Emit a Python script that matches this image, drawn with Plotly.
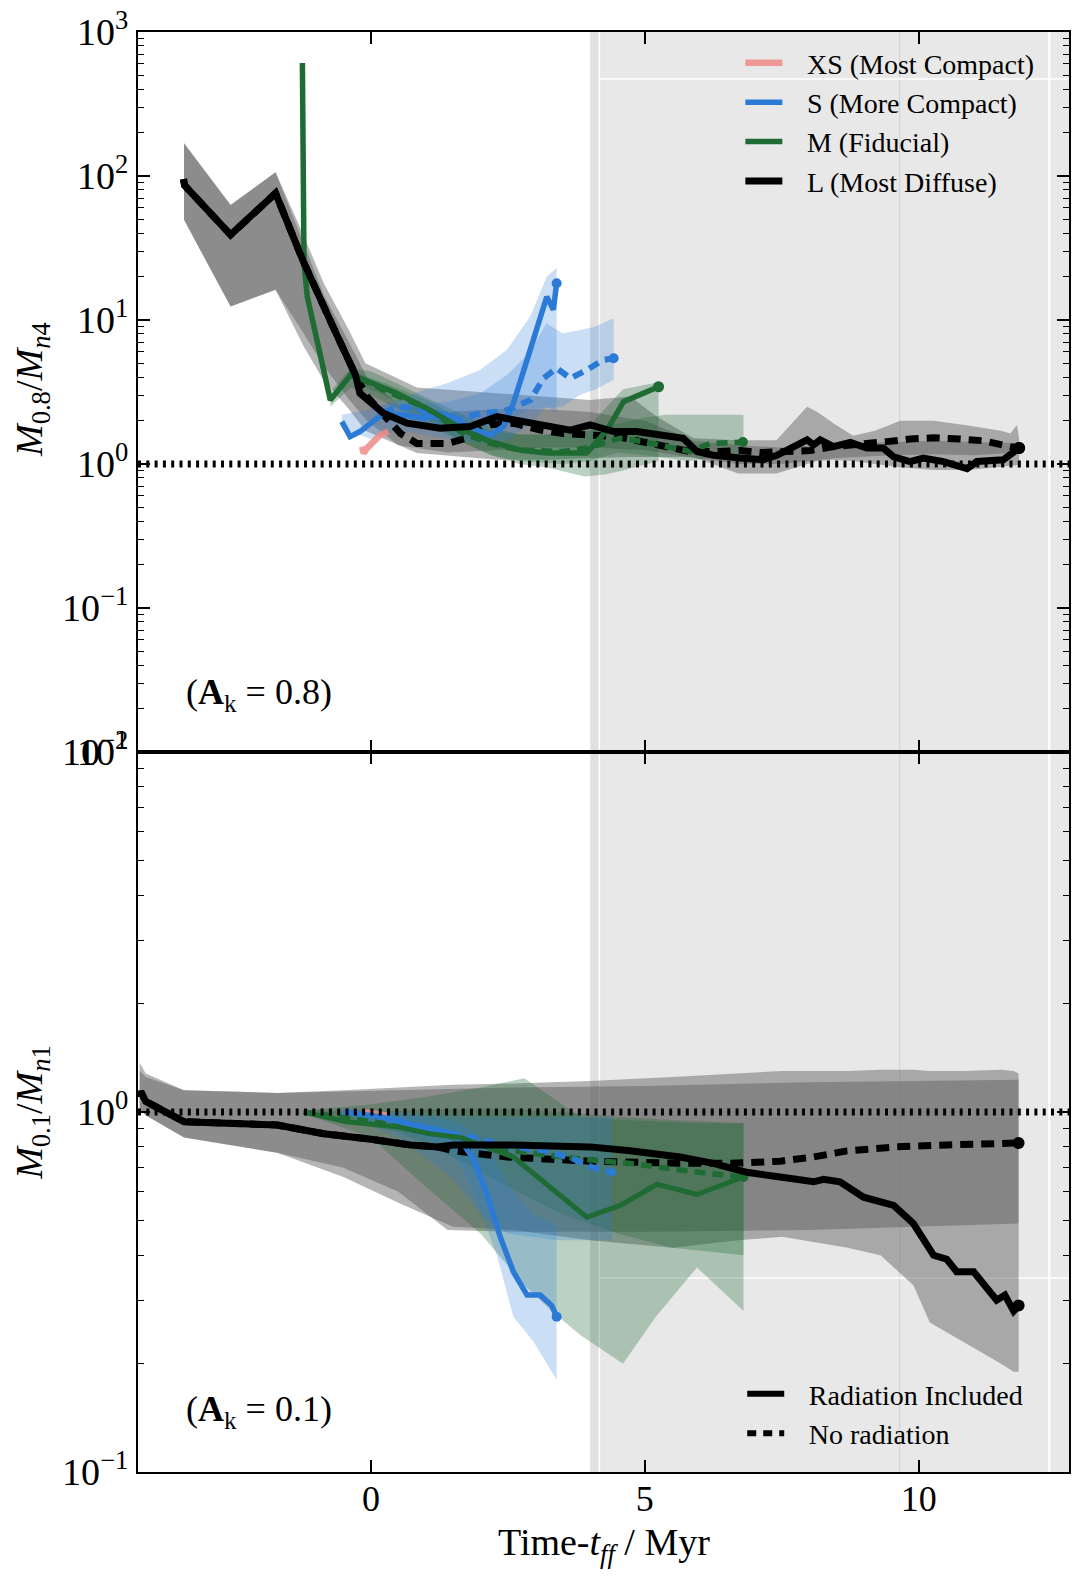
import plotly.graph_objects as go

# ---------------- axis settings ----------------
X_RANGE = [-4.25, 12.74]
X_TICKS = [0, 5, 10]
TOP_YTICKS = [1e-2, 1e-1, 1e0, 1e1, 1e2, 1e3]
TOP_YTEXT = ["10<sup>−2</sup>", "10<sup>−1</sup>", "10<sup>0</sup>", "10<sup>1</sup>", "10<sup>2</sup>", "10<sup>3</sup>"]
BOT_YTICKS = [1e-1, 1e0, 1e1]
BOT_YTEXT = ["10<sup>−1</sup>", "10<sup>0</sup>", "10<sup>1</sup>"]
SHADE_START = 4.0

# ---------------- top panel (A_k = 0.8) : M_0.8 / M_n4 ----------------
top_L_rad_t = [-3.42, -3.40, -2.56, -1.74, -1.22, -0.95, -0.61, -0.28, -0.20, 0.23, 0.66, 1.26, 1.81, 2.30, 2.66,
               3.21, 3.64, 4.00, 4.43, 4.85, 5.22, 5.70, 5.95, 6.25, 6.74, 7.16, 7.41, 7.71, 7.96, 8.08, 8.20,
               8.44, 8.75, 9.05, 9.35, 9.54, 9.84, 10.08, 10.45, 10.88, 11.06, 11.54, 11.83]
top_L_rad_v = [95, 86, 39.0, 76, 24.8, 14.5, 7.7, 4.15, 3.10, 2.25, 1.92, 1.77, 1.82, 2.13, 2.02,
               1.82, 1.72, 1.87, 1.68, 1.68, 1.59, 1.51, 1.22, 1.15, 1.10, 1.07, 1.15, 1.32, 1.47, 1.36, 1.47,
               1.32, 1.41, 1.29, 1.29, 1.12, 1.04, 1.10, 1.04, 0.93, 1.04, 1.07, 1.29]
top_L_norad_t = [-3.42, -3.40, -2.56, -1.74, -1.22, -0.95, -0.61, -0.28, -0.07, 0.54, 0.84, 1.39, 1.75, 2.18,
                 2.60, 3.09, 3.51, 4.49, 4.97, 5.40, 5.83, 6.25, 6.74, 7.10, 7.59, 8.02, 8.44, 8.93, 9.42,
                 9.84, 10.27, 10.75, 11.18, 11.67, 11.83]
top_L_norad_v = [95, 86, 39.0, 76, 24.8, 14.5, 7.7, 4.15, 2.94, 1.63, 1.39, 1.39, 1.51, 1.87,
                 1.92, 1.72, 1.63, 1.55, 1.43, 1.32, 1.22, 1.22, 1.24, 1.20, 1.22, 1.24, 1.32, 1.36, 1.43,
                 1.49, 1.52, 1.49, 1.45, 1.32, 1.29]
top_XS_rad_t = [-0.16, -0.13, -0.07, 0.05, 0.17, 0.32]
top_XS_rad_v = [1.32, 1.19, 1.29, 1.43, 1.59, 1.68]
top_S_rad_t = [-0.53, -0.38, -0.20, 0.05, 0.23, 0.59, 0.96, 1.26, 1.51, 1.75, 2.18, 2.42, 2.60, 2.85, 3.03, 3.21, 3.33, 3.39]
top_S_rad_v = [1.97, 1.55, 1.68, 2.02, 2.25, 2.19, 2.08, 2.25, 2.13, 1.82, 1.59, 1.82, 2.64, 5.28, 9.0, 14.5, 11.8, 18.0]
top_S_norad_t = [0.23, 0.47, 0.84, 1.20, 1.57, 1.99, 2.42, 2.66, 2.91, 3.15, 3.39, 3.64, 3.94, 4.24, 4.43]
top_S_norad_v = [2.25, 2.50, 2.44, 2.13, 2.02, 2.25, 2.31, 2.50, 2.78, 3.94, 4.62, 3.94, 4.50, 5.28, 5.43]
top_M_rad_t = [-1.25, -1.22, -1.16, -0.74, -0.37, -0.19, 0.47, 1.08, 1.69, 2.18, 2.72, 3.21, 3.94, 4.31, 4.61, 5.25]
top_M_rad_v = [609, 24.8, 14.5, 2.78, 4.15, 3.94, 3.10, 2.37, 1.72, 1.43, 1.25, 1.19, 1.19, 1.72, 2.71, 3.44]
top_M_norad_t = [-0.20, 0.23, 0.96, 1.69, 2.18, 2.72, 3.51, 3.94, 4.55, 4.97, 5.40, 5.83, 6.19, 6.62, 6.79]
top_M_norad_v = [3.94, 3.27, 2.50, 1.63, 1.39, 1.25, 1.22, 1.29, 1.51, 1.43, 1.32, 1.22, 1.39, 1.43, 1.42]

# spread bands (top)
top_L_rad_band_t = [-3.41, -2.56, -1.74, -1.22, -0.86, -0.4, -0.1, 0.84, 2.3, 3.21, 4.0, 4.73, 5.22, 5.89, 6.7, 7.4,
                    7.96, 8.14, 8.44, 8.8, 9.2, 9.66, 10.27, 10.9, 11.5, 11.67, 11.79, 11.83]
top_L_rad_band_hi = [169, 63, 106, 38, 18, 8.5, 5.0, 3.4, 3.1, 2.94, 2.78, 2.94, 2.13, 1.51, 1.46, 1.46,
                     2.5, 2.31, 1.92, 1.57, 1.7, 2.0, 2.0, 1.85, 1.7, 1.63, 1.87, 1.5]
top_L_rad_band_lo = [49.6, 12.4, 16.2, 6.5, 3.8, 2.4, 1.7, 1.19, 1.07, 1.07, 1.1, 1.12, 1.12, 1.12, 0.86, 0.86,
                     1.0, 1.05, 1.07, 1.05, 1.0, 0.95, 0.91, 0.91, 0.95, 0.97, 0.98, 1.0]
top_L_norad_band_t = [-3.41, -2.56, -1.74, -1.22, -0.86, -0.4, -0.07, 0.5, 1.4, 2.3, 3.2, 4.0, 5.0, 5.9, 6.7, 7.5,
                      8.5, 9.5, 10.3, 11.0, 11.83]
top_L_norad_band_hi = [169, 63, 106, 34, 15, 7, 4.0, 2.6, 2.3, 2.4, 2.4, 2.3, 2.0, 1.45, 1.35, 1.3,
                       1.38, 1.42, 1.45, 1.42, 1.40]
top_L_norad_band_lo = [49.6, 12.4, 16.2, 8, 4.8, 2.8, 2.0, 1.35, 1.2, 1.25, 1.3, 1.3, 1.25, 1.1, 1.0, 1.0,
                       1.1, 1.15, 1.17, 1.15, 1.2]
top_S_rad_band_t = [-0.53, 0.0, 0.5, 0.96, 1.39, 1.99, 2.48, 2.91, 3.21, 3.39]
top_S_rad_band_hi = [2.2, 2.4, 2.8, 3.27, 3.64, 4.5, 6.2, 10.6, 20, 23]
top_S_rad_band_lo = [1.75, 1.5, 1.7, 1.6, 1.5, 1.4, 1.45, 1.9, 2.5, 2.25]
top_S_norad_band_t = [0.23, 0.8, 1.4, 2.0, 2.5, 2.9, 3.2, 3.5, 3.8, 4.1, 4.43]
top_S_norad_band_hi = [2.6, 2.6, 2.7, 3.1, 4.2, 6.0, 9.5, 8.1, 8.5, 9.0, 10.3]
top_S_norad_band_lo = [2.0, 1.9, 1.8, 1.8, 2.0, 2.4, 2.45, 2.5, 3.0, 3.3, 3.84]
top_M_rad_band_t = [-0.74, -0.37, 0.0, 0.5, 1.0, 1.7, 2.2, 2.7, 3.2, 3.9, 4.3, 4.6, 5.25]
top_M_rad_band_hi = [3.2, 4.6, 4.4, 3.6, 2.9, 2.2, 1.8, 1.6, 1.6, 1.7, 2.5, 3.3, 3.7]
top_M_rad_band_lo = [2.5, 3.4, 3.0, 2.4, 1.9, 1.4, 1.15, 1.0, 0.95, 0.82, 0.85, 0.9, 1.05]
top_M_norad_band_t = [-0.2, 0.3, 1.0, 1.7, 2.2, 2.7, 3.5, 4.0, 4.5, 5.0, 5.4, 5.8, 6.2, 6.8]
top_M_norad_band_hi = [4.2, 3.6, 2.8, 2.0, 1.7, 1.6, 1.6, 1.7, 1.9, 2.1, 2.2, 2.2, 2.2, 2.2]
top_M_norad_band_lo = [3.6, 2.9, 2.1, 1.4, 1.15, 1.05, 1.0, 1.05, 1.2, 1.15, 1.1, 1.05, 1.1, 1.15]

# ---------------- bottom panel (A_k = 0.1) : M_0.1 / M_n1 ----------------
bot_L_rad_t = [-4.22, -4.20, -4.11, -3.41, -1.71, -0.86, 0.0, 0.72, 1.21, 1.51, 2.60, 4.00, 4.73, 5.64, 6.25, 6.86,
               7.47, 8.08, 8.26, 8.56, 8.99, 9.54, 9.90, 10.27, 10.51, 10.69, 11.0, 11.42, 11.57, 11.73, 11.82]
bot_L_rad_v = [1.10, 1.14, 1.07, 0.94, 0.92, 0.87, 0.84, 0.81, 0.80, 0.81, 0.81, 0.80, 0.78, 0.75, 0.72, 0.68,
               0.66, 0.64, 0.65, 0.64, 0.58, 0.55, 0.49, 0.40, 0.39, 0.36, 0.36, 0.30, 0.31, 0.28, 0.29]
bot_L_norad_t = [-4.22, -4.20, -4.11, -3.41, -1.71, -0.86, 0.0, 0.72, 1.21, 1.51, 2.48, 4.00, 5.64, 6.56, 7.47,
                 8.08, 8.69, 9.59, 10.51, 11.82]
bot_L_norad_v = [1.10, 1.14, 1.07, 0.94, 0.92, 0.87, 0.84, 0.81, 0.80, 0.78, 0.75, 0.73, 0.72, 0.72, 0.73,
                 0.75, 0.78, 0.80, 0.81, 0.82]
bot_XS_t = [-0.14, 0.05, 0.30]
bot_XS_v = [1.00, 0.99, 0.98]
bot_S_rad_t = [-0.50, 0.17, 0.78, 1.39, 1.63, 1.87, 2.12, 2.36, 2.60, 2.85, 3.09, 3.30, 3.39]
bot_S_rad_v = [1.00, 0.97, 0.92, 0.88, 0.84, 0.74, 0.59, 0.45, 0.36, 0.31, 0.31, 0.29, 0.27]
bot_S_norad_t = [-0.50, 0.17, 0.78, 1.39, 1.87, 2.60, 3.21, 3.70, 4.06, 4.40]
bot_S_norad_v = [1.00, 0.98, 0.92, 0.88, 0.85, 0.80, 0.78, 0.74, 0.70, 0.68]
bot_M_rad_t = [-1.23, -0.44, 0.47, 1.08, 1.63, 2.60, 3.94, 4.55, 5.22, 5.95, 6.80]
bot_M_rad_v = [1.00, 0.94, 0.91, 0.87, 0.85, 0.75, 0.51, 0.55, 0.63, 0.59, 0.66]
bot_M_norad_t = [-1.23, 0.47, 1.57, 2.60, 3.82, 4.73, 5.64, 6.74]
bot_M_norad_v = [1.00, 0.92, 0.85, 0.78, 0.74, 0.72, 0.69, 0.66]

# spread bands (bottom)
bot_L_rad_band_t = [-4.22, -4.11, -3.41, -1.71, -0.5, 0.5, 1.5, 2.6, 4.0, 5.5, 6.7, 7.5, 8.7, 9.3, 9.9, 10.2,
                    10.8, 11.5, 11.73, 11.82]
bot_L_rad_band_hi = [1.37, 1.28, 1.15, 1.13, 1.15, 1.17, 1.19, 1.20, 1.22, 1.25, 1.28, 1.30, 1.30, 1.31, 1.31, 1.30,
                     1.30, 1.31, 1.30, 1.28]
bot_L_rad_band_lo = [1.02, 0.98, 0.85, 0.77, 0.66, 0.56, 0.48, 0.47, 0.44, 0.42, 0.44, 0.45, 0.42, 0.40, 0.33, 0.26,
                     0.23, 0.20, 0.19, 0.19]
bot_L_norad_band_t = [-4.22, -4.11, -3.41, -1.71, -0.5, 0.5, 1.4, 2.6, 5.0, 8.0, 10.0, 11.82]
bot_L_norad_band_hi = [1.30, 1.25, 1.15, 1.13, 1.14, 1.15, 1.16, 1.17, 1.18, 1.21, 1.22, 1.23]
bot_L_norad_band_lo = [1.02, 0.98, 0.85, 0.77, 0.70, 0.60, 0.47, 0.465, 0.465, 0.47, 0.48, 0.49]
bot_S_rad_band_t = [-0.50, 0.5, 1.4, 1.7, 2.0, 2.3, 2.6, 2.97, 3.21, 3.39]
bot_S_rad_band_hi = [1.01, 0.99, 0.95, 0.92, 0.85, 0.72, 0.6, 0.52, 0.5, 0.48]
bot_S_rad_band_lo = [0.99, 0.90, 0.80, 0.68, 0.53, 0.40, 0.27, 0.23, 0.20, 0.18]
bot_S_norad_band_t = [-0.50, 0.5, 1.5, 2.0, 2.5, 3.4, 4.40]
bot_S_norad_band_hi = [1.01, 1.0, 0.98, 0.97, 0.97, 0.97, 0.97]
bot_S_norad_band_lo = [0.99, 0.85, 0.65, 0.52, 0.46, 0.44, 0.44]
bot_M_rad_band_t = [-1.23, 0.0, 1.0, 2.0, 2.8, 3.3, 3.82, 4.6, 5.2, 5.95, 6.4, 6.8]
bot_M_rad_band_hi = [1.01, 1.05, 1.10, 1.17, 1.24, 1.10, 0.97, 0.95, 0.94, 0.93, 0.93, 0.93]
bot_M_rad_band_lo = [0.99, 0.85, 0.62, 0.46, 0.33, 0.28, 0.24, 0.20, 0.27, 0.37, 0.32, 0.28]
bot_M_norad_band_t = [-1.23, 0.5, 1.5, 2.5, 3.5, 4.5, 5.5, 6.8]
bot_M_norad_band_hi = [1.01, 1.01, 1.02, 1.02, 1.0, 0.97, 0.95, 0.93]
bot_M_norad_band_lo = [0.99, 0.88, 0.75, 0.62, 0.52, 0.46, 0.42, 0.40]

LEGEND_NAMES = ["XS (Most Compact)", "S (More Compact)", "M (Fiducial)", "L (Most Diffuse)"]
LEGEND2_NAMES = ["Radiation Included", "No radiation"]

# ---------------- styles ----------------
FONT = "Liberation Serif"
BLACK = "#000000"
BLUE = "#2b7bd6"
GREEN = "#1e6b34"
PINK = "#f08b88"
GRAY_FILL = "rgba(90,90,90,0.45)"
BLUE_FILL = "rgba(43,123,214,0.25)"
GREEN_FILL = "rgba(30,107,52,0.30)"
LEG_PAD = "\u2002\u2009"  # gap between legend key and its label

fig = go.Figure()
TOP = dict(xaxis="x2", yaxis="y2")
BOT = dict(xaxis="x", yaxis="y")


def band(t, hi, lo, fill, ax):
    fig.add_trace(go.Scatter(x=list(t) + list(t)[::-1], y=list(hi) + list(lo)[::-1], mode="lines",
                             fill="toself", fillcolor=fill, line=dict(width=0), hoverinfo="skip",
                             showlegend=False, **ax))


def run(t, v, color, width, ax, dash="solid", opacity=1.0, end=0, name=None):
    fig.add_trace(go.Scatter(x=t, y=v, mode="lines", line=dict(color=color, width=width, dash=dash),
                             opacity=opacity, name=(LEG_PAD + name) if name else None,
                             showlegend=name is not None, legend="legend",
                             hoverinfo="skip", **ax))
    if end:
        fig.add_trace(go.Scatter(x=[t[-1]], y=[v[-1]], mode="markers", marker=dict(color=color, size=end),
                                 opacity=opacity, showlegend=False, hoverinfo="skip", **ax))


# bands
for ax, bands in [(TOP, [(top_L_rad_band_t, top_L_rad_band_hi, top_L_rad_band_lo, GRAY_FILL),
                         (top_L_norad_band_t, top_L_norad_band_hi, top_L_norad_band_lo, GRAY_FILL),
                         (top_M_rad_band_t, top_M_rad_band_hi, top_M_rad_band_lo, GREEN_FILL),
                         (top_M_norad_band_t, top_M_norad_band_hi, top_M_norad_band_lo, GREEN_FILL),
                         (top_S_rad_band_t, top_S_rad_band_hi, top_S_rad_band_lo, BLUE_FILL),
                         (top_S_norad_band_t, top_S_norad_band_hi, top_S_norad_band_lo, BLUE_FILL)]),
                  (BOT, [(bot_L_rad_band_t, bot_L_rad_band_hi, bot_L_rad_band_lo, GRAY_FILL),
                         (bot_L_norad_band_t, bot_L_norad_band_hi, bot_L_norad_band_lo, GRAY_FILL),
                         (bot_M_rad_band_t, bot_M_rad_band_hi, bot_M_rad_band_lo, GREEN_FILL),
                         (bot_M_norad_band_t, bot_M_norad_band_hi, bot_M_norad_band_lo, GREEN_FILL),
                         (bot_S_rad_band_t, bot_S_rad_band_hi, bot_S_rad_band_lo, BLUE_FILL),
                         (bot_S_norad_band_t, bot_S_norad_band_hi, bot_S_norad_band_lo, BLUE_FILL)])]:
    for b in bands:
        band(*b, ax)

DASH_K = "13px,8px"
DASH_C = "11px,7px"

# top panel lines
run(top_L_norad_t, top_L_norad_v, BLACK, 7, TOP, dash=DASH_K, end=12)
run(top_M_norad_t, top_M_norad_v, GREEN, 5.5, TOP, dash=DASH_C, end=10)
run(top_S_norad_t, top_S_norad_v, BLUE, 6, TOP, dash=DASH_C, end=10)
run(top_XS_rad_t, top_XS_rad_v, PINK, 6.5, TOP, opacity=0.85, name=LEGEND_NAMES[0])
run(top_S_rad_t, top_S_rad_v, BLUE, 5.5, TOP, end=10, name=LEGEND_NAMES[1])
run(top_M_rad_t, top_M_rad_v, GREEN, 5.5, TOP, end=11, name=LEGEND_NAMES[2])
run(top_L_rad_t, top_L_rad_v, BLACK, 7, TOP, end=12, name=LEGEND_NAMES[3])

# bottom panel lines
run(bot_L_norad_t, bot_L_norad_v, BLACK, 7, BOT, dash=DASH_K, end=12)
run(bot_M_norad_t, bot_M_norad_v, GREEN, 5.5, BOT, dash=DASH_C)
run(bot_S_norad_t, bot_S_norad_v, BLUE, 6, BOT, dash=DASH_C, end=8)
run(bot_XS_t, bot_XS_v, PINK, 6, BOT, opacity=0.85)
run(bot_S_rad_t, bot_S_rad_v, BLUE, 5.5, BOT, end=10)
run(bot_M_rad_t, bot_M_rad_v, GREEN, 5, BOT, end=10)
run(bot_L_rad_t, bot_L_rad_v, BLACK, 7, BOT, end=12)

# radiation legend (style keys only)
for nm, dsh in zip(LEGEND2_NAMES, ["solid", "9px,7px"]):
    fig.add_trace(go.Scatter(x=[None], y=[None], mode="lines", line=dict(color=BLACK, width=6, dash=dsh),
                             name=LEG_PAD + nm, legend="legend2", **BOT))

# shaded region & decorations
shapes = []
for yref in ["y domain", "y2 domain"]:
    shapes.append(dict(type="rect", xref="x", yref=yref, x0=SHADE_START, x1=SHADE_START + 0.17, y0=0, y1=1,
                       fillcolor="#e1e1e1", line=dict(width=0), layer="below"))
    shapes.append(dict(type="rect", xref="x", yref=yref, x0=SHADE_START + 0.17, x1=X_RANGE[1], y0=0, y1=1,
                       fillcolor="#e8e8e8", line=dict(width=0), layer="below"))
    shapes.append(dict(type="line", xref="x", yref=yref, x0=SHADE_START + 0.17, x1=SHADE_START + 0.17, y0=0, y1=1,
                       line=dict(color="white", width=1.5), layer="below"))
    shapes.append(dict(type="line", xref="x", yref=yref, x0=9.65, x1=9.65, y0=0, y1=1,
                       line=dict(color="#d2d2d2", width=1), layer="below"))
    shapes.append(dict(type="line", xref="x", yref=yref, x0=12.38, x1=12.38, y0=0, y1=1,
                       line=dict(color="white", width=2), layer="below"))
shapes.append(dict(type="line", xref="x", yref="y2", x0=SHADE_START + 0.17, x1=X_RANGE[1], y0=471, y1=471,
                   line=dict(color="white", width=1.5), layer="below"))
shapes.append(dict(type="line", xref="x", yref="y", x0=SHADE_START + 0.17, x1=X_RANGE[1], y0=0.346, y1=0.346,
                   line=dict(color="white", width=1.5), layer="below"))
# y = 1 reference lines
for xref, yref in [("x domain", "y"), ("x2 domain", "y2")]:
    shapes.append(dict(type="line", xref=xref, yref=yref, x0=0, x1=1, y0=1, y1=1,
                       line=dict(color=BLACK, width=7, dash="3px,5.3px"), layer="above"))

xtickfont = dict(family=FONT, size=36, color="black")
ytickfont = dict(family=FONT, size=38, color="black")
common_x = dict(range=X_RANGE, tickvals=X_TICKS, ticks="inside", ticklen=12, tickwidth=1.5, tickcolor="black",
                showline=True, linecolor="black", linewidth=2, mirror="allticks", showgrid=False,
                zeroline=False, tickfont=xtickfont, ticklabelstandoff=-6, automargin=False)
common_y = dict(type="log", ticks="inside", ticklen=12, tickwidth=1.5, tickcolor="black", showline=True,
                linecolor="black", linewidth=2, mirror="allticks", showgrid=False, zeroline=False,
                tickfont=ytickfont, automargin=False,
                minor=dict(ticks="inside", ticklen=6, tickwidth=1, tickcolor="black", dtick="D1", showgrid=False))

fig.update_layout(
    width=1084, height=1580,
    margin=dict(l=138, r=15, t=32, b=108, autoexpand=False),
    paper_bgcolor="white", plot_bgcolor="white",
    font=dict(family=FONT, color="black"),
    xaxis=dict(anchor="y", **common_x),
    xaxis2=dict(anchor="y2", matches="x", showticklabels=False, **common_x),
    yaxis=dict(domain=[0, 0.5], anchor="x", range=[-1, 1], tickvals=BOT_YTICKS, ticktext=BOT_YTEXT, **common_y),
    yaxis2=dict(domain=[0.5, 1], anchor="x2", range=[-2, 3], tickvals=TOP_YTICKS, ticktext=TOP_YTEXT, **common_y),
    shapes=shapes,
    showlegend=True,
    legend=dict(x=0.647, y=0.9958, xanchor="left", yanchor="top", bgcolor="rgba(0,0,0,0)", itemwidth=37,
                font=dict(family=FONT, size=28, color="black"), tracegroupgap=0),
    legend2=dict(x=0.649, y=0.0715, xanchor="left", yanchor="top", bgcolor="rgba(0,0,0,0)", itemwidth=37,
                 font=dict(family=FONT, size=28, color="black")),
    annotations=[
        dict(text="(<b>A</b><sub>k</sub> = 0.8)", xref="paper", yref="paper", x=0.049, y=0.5396,
             xanchor="left", yanchor="middle", showarrow=False, font=dict(family=FONT, size=36)),
        dict(text="(<b>A</b><sub>k</sub> = 0.1)", xref="paper", yref="paper", x=0.049, y=0.0417,
             xanchor="left", yanchor="middle", showarrow=False, font=dict(family=FONT, size=36)),
        dict(text="<i>M</i><sub>0.8</sub>/<i>M</i><sub><i>n</i>4</sub>", xref="paper", yref="paper",
             x=-0.114, y=0.752, textangle=-90, showarrow=False, xanchor="center", yanchor="middle",
             font=dict(family=FONT, size=38)),
        dict(text="<i>M</i><sub>0.1</sub>/<i>M</i><sub><i>n</i>1</sub>", xref="paper", yref="paper",
             x=-0.114, y=0.25, textangle=-90, showarrow=False, xanchor="center", yanchor="middle",
             font=dict(family=FONT, size=38)),
        dict(text="Time-<i>t</i><sub><i>ff</i></sub> / Myr", xref="paper", yref="paper", x=0.5, y=-0.051,
             xanchor="center", yanchor="middle", showarrow=False, font=dict(family=FONT, size=38)),
    ],
)

fig.write_html("out.html")
